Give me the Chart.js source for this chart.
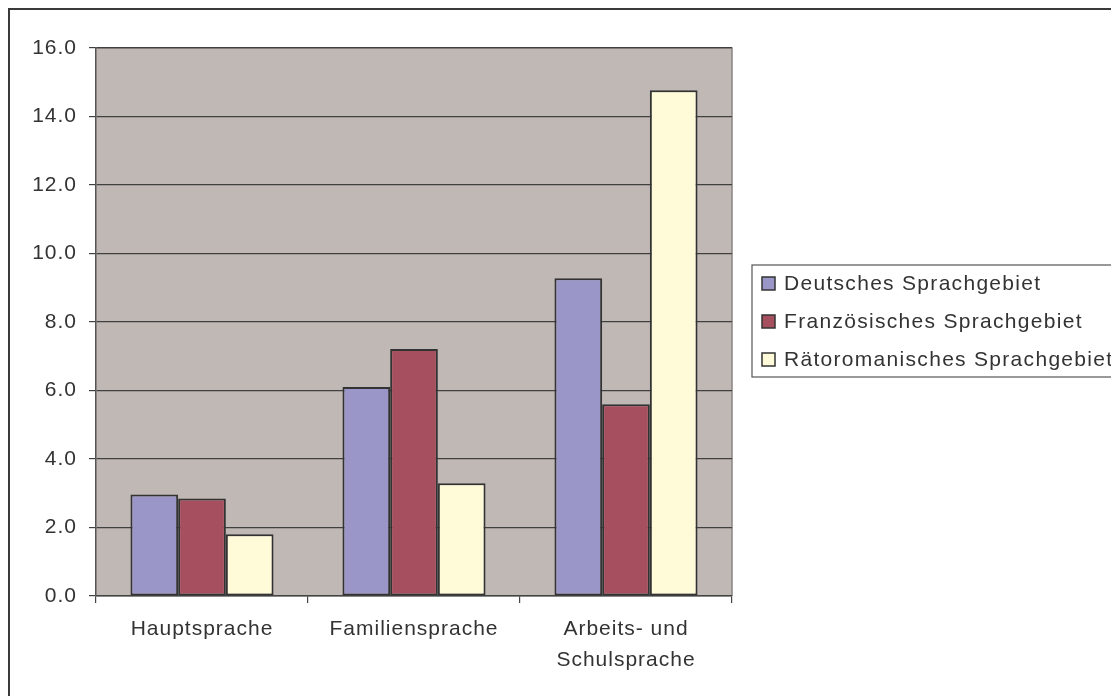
<!DOCTYPE html>
<html>
<head>
<meta charset="utf-8">
<script src="https://cdn.jsdelivr.net/npm/chart.js@4"></script>
<style>
  body { margin: 0; background: #fff; }
  canvas { display: block; }
</style>
</head>
<body>
<canvas id="chart" width="1111" height="696"></canvas>
<script>
const categories = ['Hauptsprache', 'Familiensprache', ['Arbeits- und', 'Schulsprache']];
const seriesNames = ['Deutsches Sprachgebiet', 'Französisches Sprachgebiet', 'Rätoromanisches Sprachgebiet'];
const deutsch = [2.96, 6.1, 9.28];
const franz = [2.85, 7.21, 5.6];
const raeto = [1.8, 3.29, 14.77];
const colors = ['#9b96c8', '#a64f5e', '#fffad8'];

const fontFamily = '"Liberation Sans", Arial, sans-serif';
const textColor = '#333333';

// background of the plot, outer frame and the legend box
const frame = {
  id: 'frame',
  beforeDraw(chart) {
    const ctx = chart.ctx;
    const a = chart.chartArea;
    ctx.letterSpacing = '1px';
    ctx.save();
    ctx.fillStyle = '#c0b8b5';
    ctx.fillRect(a.left, a.top, a.right - a.left, a.bottom - a.top);
    ctx.strokeStyle = '#8a8484';
    ctx.lineWidth = 1.5;
    ctx.beginPath();
    ctx.moveTo(a.left, a.top);
    ctx.lineTo(a.right, a.top);
    ctx.lineTo(a.right, a.bottom);
    ctx.stroke();
    // outer frame
    ctx.strokeStyle = '#3a3a3a';
    ctx.lineWidth = 2;
    ctx.beginPath();
    ctx.moveTo(9, chart.height + 2);
    ctx.lineTo(9, 9);
    ctx.lineTo(chart.width + 2, 9);
    ctx.stroke();
    ctx.restore();
  },
  afterDraw(chart) {
    const ctx = chart.ctx;
    ctx.save();
    ctx.strokeStyle = '#555';
    ctx.lineWidth = 1.2;
    ctx.strokeRect(752, 265, 420, 112);
    ctx.font = '21px ' + fontFamily;
    ctx.letterSpacing = '1.3px';
    ctx.textBaseline = 'middle';
    chart.data.datasets.forEach((ds, i) => {
      const y = 283 + i * 38;
      ctx.fillStyle = ds.backgroundColor;
      ctx.fillRect(762, y - 6, 13, 13);
      ctx.strokeStyle = '#333';
      ctx.lineWidth = 1.5;
      ctx.strokeRect(762, y - 6, 13, 13);
      ctx.fillStyle = textColor;
      ctx.fillText(ds.label, 784, y + 1);
    });
    ctx.restore();
  }
};

new Chart(document.getElementById('chart'), {
  type: 'bar',
  data: {
    labels: categories,
    datasets: [
      { label: seriesNames[0], data: deutsch, backgroundColor: colors[0] },
      { label: seriesNames[1], data: franz, backgroundColor: colors[1] },
      { label: seriesNames[2], data: raeto, backgroundColor: colors[2] }
    ].map(d => Object.assign(d, {
      borderColor: '#333333',
      borderWidth: 2,
      borderSkipped: false,
      categoryPercentage: 0.675,
      barPercentage: 1
    }))
  },
  options: {
    responsive: false,
    animation: false,
    layout: { padding: { left: 0, top: 48, right: 379, bottom: 0 } },
    plugins: {
      legend: { display: false },
      tooltip: { enabled: false }
    },
    scales: {
      x: {
        afterFit(scale) { scale.height = 100; },
        grid: {
          offset: true,
          drawOnChartArea: false,
          color: '#444',
          tickLength: 7,
          lineWidth: 1.2
        },
        border: { color: '#444', width: 1.5 },
        ticks: {
          color: textColor,
          padding: 11,
          font: { family: fontFamily, size: 21, lineHeight: 1.48 }
        }
      },
      y: {
        min: 0,
        max: 16,
        afterFit(scale) { scale.width = 96; },
        grid: { color: '#404040', tickLength: 7, lineWidth: 1.2 },
        border: { color: '#555', width: 1.5 },
        ticks: {
          stepSize: 2,
          color: textColor,
          padding: 12,
          font: { family: fontFamily, size: 21 },
          callback: v => v.toFixed(1)
        }
      }
    }
  },
  plugins: [frame]
});
</script>
</body>
</html>
